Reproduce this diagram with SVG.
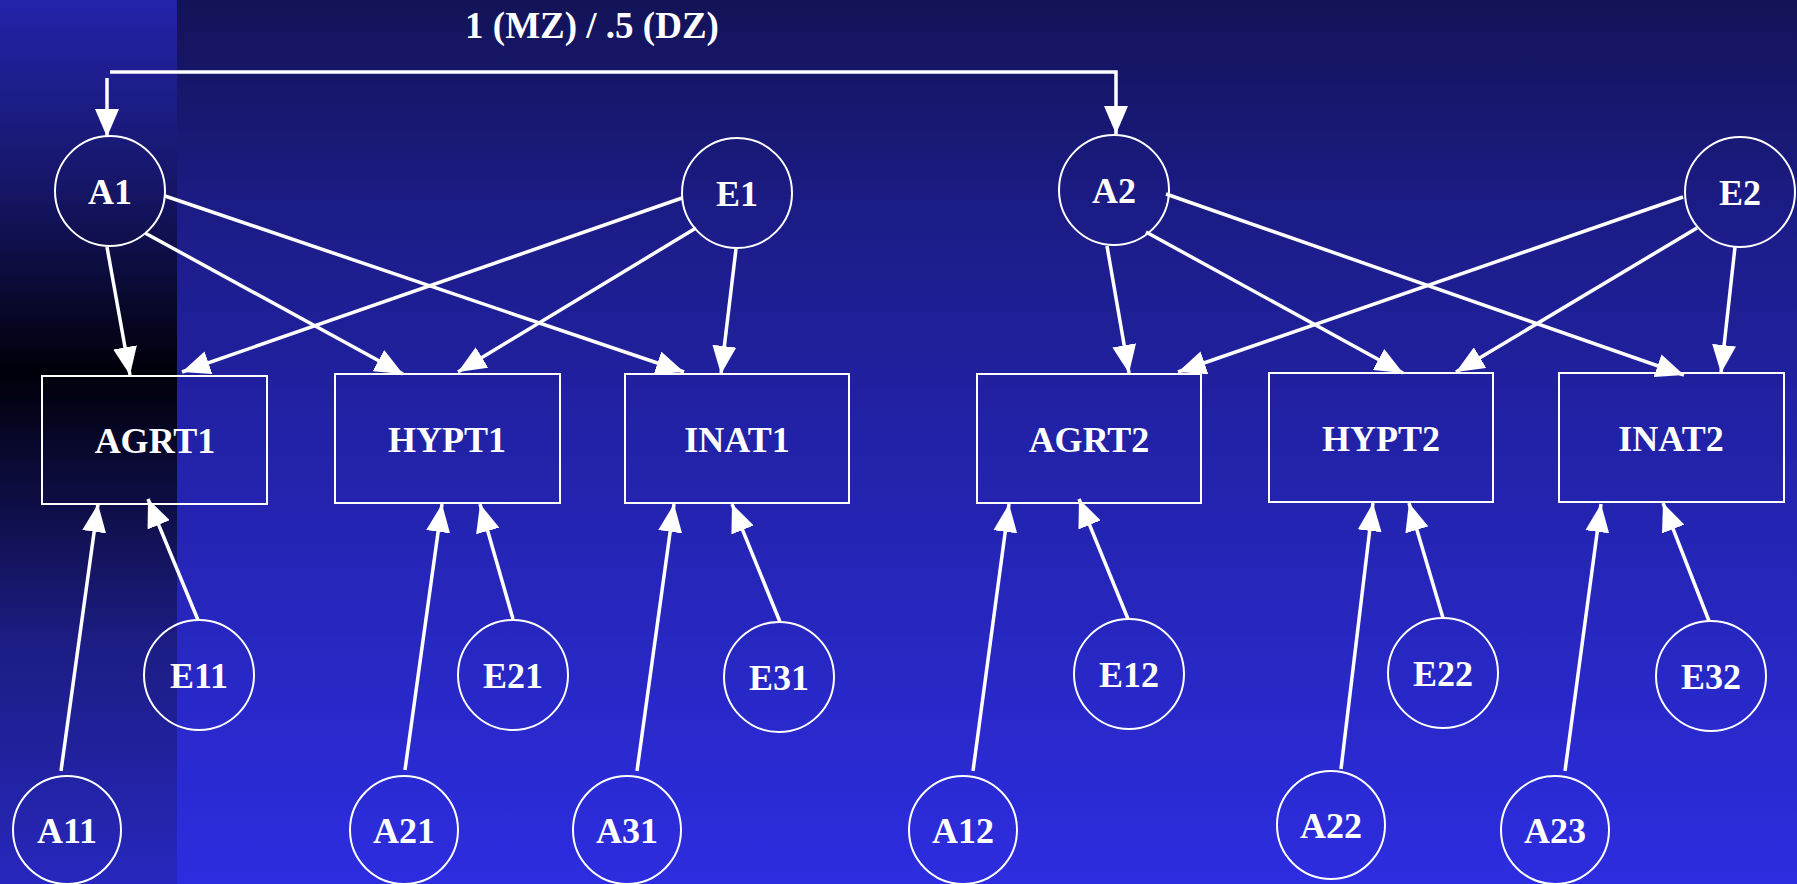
<svg xmlns="http://www.w3.org/2000/svg" width="1797" height="884" viewBox="0 0 1797 884">
  <defs>
    <linearGradient id="bg" x1="0" y1="0" x2="0" y2="1">
      <stop offset="0" stop-color="#131358"/>
      <stop offset="0.25" stop-color="#1c1c88"/>
      <stop offset="0.5" stop-color="#2222a8"/>
      <stop offset="1" stop-color="#2d2de0"/>
    </linearGradient>
    <linearGradient id="band" x1="0" y1="0" x2="0" y2="1">
      <stop offset="0" stop-color="#2323aa"/>
      <stop offset="0.21" stop-color="#161668"/>
      <stop offset="0.42" stop-color="#00000a"/>
      <stop offset="0.55" stop-color="#0c0c3e"/>
      <stop offset="0.72" stop-color="#1c1c82"/>
      <stop offset="1" stop-color="#2727bd"/>
    </linearGradient>
    <marker id="arrow" markerUnits="userSpaceOnUse" markerWidth="28" markerHeight="24" refX="28" refY="12" orient="auto">
      <path d="M0,0 L28,12 L0,24 Z" fill="#ffffff"/>
    </marker>
    <style>
      .node circle, .node rect { fill: none; stroke: #ffffff; stroke-width: 2; }
      .node text { fill: #ffffff; font-family: "Liberation Serif", "Times New Roman", serif; font-weight: bold; font-size: 36px; text-anchor: middle; }
      .title { fill: #ffffff; font-family: "Liberation Serif", "Times New Roman", serif; font-weight: bold; font-size: 37px; text-anchor: middle; }
      #connectors line, #connectors path { stroke: #ffffff; stroke-width: 3.5; fill: none; }
      #connectors .arr { marker-end: url(#arrow); }
    </style>
  </defs>

  <!-- background -->
  <rect x="0" y="0" width="1797" height="884" fill="url(#bg)"/>
  <rect x="0" y="0" width="177" height="884" fill="url(#band)"/>

  <text class="title" x="592" y="38">1 (MZ) / .5 (DZ)</text>

  <!-- connectors -->
  <g id="connectors">
    <!-- twin correlation -->
    <path d="M110,72 H1116 V134" class="arr"/>
    <line x1="107" y1="78" x2="107" y2="137" class="arr"/>

    <!-- twin 1 common factors -->
    <line x1="107" y1="247" x2="130" y2="375" class="arr"/>
    <line x1="145" y1="233" x2="403" y2="374" class="arr"/>
    <line x1="165" y1="196" x2="684" y2="372" class="arr"/>
    <line x1="682" y1="198" x2="182" y2="372" class="arr"/>
    <line x1="696" y1="228" x2="458" y2="372" class="arr"/>
    <line x1="736" y1="249" x2="721" y2="374" class="arr"/>

    <!-- twin 1 specific factors -->
    <line x1="61" y1="771" x2="98" y2="504" class="arr"/>
    <line x1="198" y1="620" x2="148" y2="499" class="arr"/>
    <line x1="405" y1="770" x2="442" y2="504" class="arr"/>
    <line x1="513" y1="619" x2="480" y2="504" class="arr"/>
    <line x1="637" y1="771" x2="674" y2="504" class="arr"/>
    <line x1="780" y1="622" x2="732" y2="504" class="arr"/>

    <!-- twin 2 common factors -->
    <line x1="1107" y1="246" x2="1129" y2="373" class="arr"/>
    <line x1="1146" y1="232" x2="1403" y2="373" class="arr"/>
    <line x1="1166" y1="194" x2="1684" y2="375" class="arr"/>
    <line x1="1683" y1="197" x2="1178" y2="372" class="arr"/>
    <line x1="1697" y1="228" x2="1456" y2="372" class="arr"/>
    <line x1="1735" y1="247" x2="1721" y2="373" class="arr"/>

    <!-- twin 2 specific factors -->
    <line x1="973" y1="771" x2="1009" y2="504" class="arr"/>
    <line x1="1128" y1="619" x2="1079" y2="499" class="arr"/>
    <line x1="1341" y1="769" x2="1373" y2="503" class="arr"/>
    <line x1="1443" y1="618" x2="1409" y2="503" class="arr"/>
    <line x1="1565" y1="771" x2="1601" y2="504" class="arr"/>
    <line x1="1709" y1="621" x2="1663" y2="503" class="arr"/>
  </g>

  <!-- latent factors -->
  <g id="A1" class="node"><circle cx="110" cy="191" r="55"/><text x="110" y="204">A1</text></g>
  <g id="E1" class="node"><circle cx="737" cy="193" r="55"/><text x="737" y="206">E1</text></g>
  <g id="A2" class="node"><circle cx="1114" cy="190" r="55"/><text x="1114" y="203">A2</text></g>
  <g id="E2" class="node"><circle cx="1740" cy="192" r="55"/><text x="1740" y="205">E2</text></g>

  <!-- observed measures -->
  <g id="AGRT1" class="node"><rect x="42" y="376" width="225" height="128"/><text x="155" y="453">AGRT1</text></g>
  <g id="HYPT1" class="node"><rect x="335" y="374" width="225" height="129"/><text x="447" y="452">HYPT1</text></g>
  <g id="INAT1" class="node"><rect x="625" y="374" width="224" height="129"/><text x="737" y="452">INAT1</text></g>
  <g id="AGRT2" class="node"><rect x="977" y="374" width="224" height="129"/><text x="1089" y="452">AGRT2</text></g>
  <g id="HYPT2" class="node"><rect x="1269" y="373" width="224" height="129"/><text x="1381" y="451">HYPT2</text></g>
  <g id="INAT2" class="node"><rect x="1559" y="373" width="225" height="129"/><text x="1671" y="451">INAT2</text></g>

  <!-- specific factors -->
  <g id="E11" class="node"><circle cx="199" cy="675" r="55"/><text x="199" y="688">E11</text></g>
  <g id="E21" class="node"><circle cx="513" cy="675" r="55"/><text x="513" y="688">E21</text></g>
  <g id="E31" class="node"><circle cx="779" cy="677" r="55"/><text x="779" y="690">E31</text></g>
  <g id="E12" class="node"><circle cx="1129" cy="674" r="55"/><text x="1129" y="687">E12</text></g>
  <g id="E22" class="node"><circle cx="1443" cy="673" r="55"/><text x="1443" y="686">E22</text></g>
  <g id="E32" class="node"><circle cx="1711" cy="676" r="55"/><text x="1711" y="689">E32</text></g>

  <g id="A11" class="node"><circle cx="67" cy="830" r="54"/><text x="67" y="843">A11</text></g>
  <g id="A21" class="node"><circle cx="404" cy="830" r="54"/><text x="404" y="843">A21</text></g>
  <g id="A31" class="node"><circle cx="627" cy="830" r="54"/><text x="627" y="843">A31</text></g>
  <g id="A12" class="node"><circle cx="963" cy="830" r="54"/><text x="963" y="843">A12</text></g>
  <g id="A22" class="node"><circle cx="1331" cy="825" r="54"/><text x="1331" y="838">A22</text></g>
  <g id="A23" class="node"><circle cx="1555" cy="830" r="54"/><text x="1555" y="843">A23</text></g>
</svg>
